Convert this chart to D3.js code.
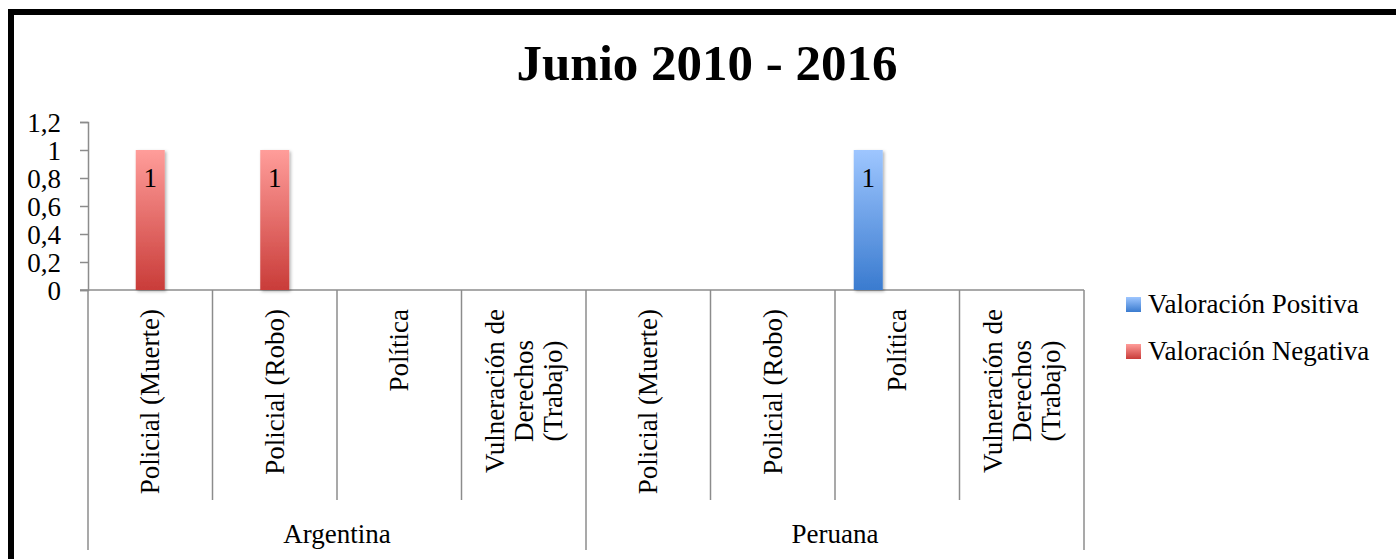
<!DOCTYPE html>
<html>
<head>
<meta charset="utf-8">
<script src="https://cdn.jsdelivr.net/npm/d3@7"></script>
<style>
  html, body { margin: 0; padding: 0; background: #fff; overflow: hidden; }
  svg text { font-family: "Liberation Serif", "Times New Roman", serif; fill: #000; }
</style>
</head>
<body>
<svg id="chart" width="1396" height="559"></svg>
<script>
// Data
var titleText = 'Junio 2010 - 2016';
var groups = ['Argentina', 'Peruana'];
var categories = ['Policial (Muerte)', 'Policial (Robo)', 'Política', 'Vulneración de Derechos (Trabajo)'];
// wrapped tick labels, as drawn
var categoryLines = [
  ['Policial (Muerte)'],
  ['Policial (Robo)'],
  ['Política'],
  ['Vulneración de', 'Derechos', '(Trabajo)']
];
var seriesNames = ['Valoración Positiva', 'Valoración Negativa'];
// one value per group x category, null = blank cell
var positiva = [null, null, null, null,   null, null, 1, null];
var negativa = [1, 1, null, null,         null, null, null, null];
var yTicks = [0, 0.2, 0.4, 0.6, 0.8, 1, 1.2];

var svg = d3.select('#chart');
var axisColor = '#8c8c8c';

// outer frame (cropped on right/bottom)
svg.append('rect')
  .attr('x', 11).attr('y', 12)
  .attr('width', 1500).attr('height', 700)
  .attr('fill', 'none')
  .attr('stroke', '#000')
  .attr('stroke-width', 6);

// gradients
var defs = svg.append('defs');
function grad(id, top, bottom) {
  var g = defs.append('linearGradient').attr('id', id)
    .attr('x1', 0).attr('y1', 0).attr('x2', 0).attr('y2', 1);
  g.append('stop').attr('offset', '0%').attr('stop-color', top);
  g.append('stop').attr('offset', '100%').attr('stop-color', bottom);
}
grad('gPos', '#9ec6ff', '#3a7bcf');
grad('gNeg', '#ff9d9a', '#c93c39');
var fills = ['url(#gPos)', 'url(#gNeg)'];

var shadow = defs.append('filter').attr('id', 'shadow')
  .attr('x', '-30%').attr('y', '-10%').attr('width', '160%').attr('height', '130%');
shadow.append('feDropShadow')
  .attr('dx', 1.5).attr('dy', 1.5).attr('stdDeviation', 1.5)
  .attr('flood-color', '#000').attr('flood-opacity', 0.3);

// title
svg.append('text')
  .attr('x', 707).attr('y', 80)
  .attr('text-anchor', 'middle')
  .style('font-size', '51px')
  .style('font-weight', 'bold')
  .text(titleText);

// scales
var keys = [];
groups.forEach(function (g) {
  categories.forEach(function (c) { keys.push(g + '|' + c); });
});

var x0 = d3.scaleBand().domain(keys).range([88, 1084]).padding(0);
// Excel reserved three series slots per category; only the first two hold data
var x1 = d3.scaleBand().domain([0, 1, 2]).range([0, x0.bandwidth()])
  .paddingInner(0).paddingOuter(0.646);
var y = d3.scaleLinear().domain([0, 1.2]).range([290, 122]);

var xGroup = d3.scaleBand().domain(groups).range([88, 1084]).padding(0);

// y axis
var yAxis = svg.append('g')
  .attr('transform', 'translate(88,0)')
  .call(d3.axisLeft(y).tickValues(yTicks).tickSize(8).tickPadding(19)
    .tickFormat(function (d) { return String(d).replace('.', ','); }));
yAxis.select('.domain').attr('stroke', axisColor).attr('stroke-width', 1.5);
yAxis.selectAll('.tick line').attr('stroke', axisColor).attr('stroke-width', 1.5);
yAxis.selectAll('.tick text')
  .attr('dy', '0.34em')
  .style('font-size', '27px')
  .style('font-family', '"Liberation Serif", serif')
  .attr('fill', '#000');

// x baseline
svg.append('line')
  .attr('x1', 80).attr('x2', x0.range()[1])
  .attr('y1', y(0)).attr('y2', y(0))
  .attr('stroke', axisColor).attr('stroke-width', 1.5);

// category dividers
var catEdges = keys.map(function (k) { return x0(k); }).concat([x0.range()[1]]);
svg.append('g').selectAll('line')
  .data(catEdges)
  .join('line')
  .attr('x1', function (d) { return d; })
  .attr('x2', function (d) { return d; })
  .attr('y1', y(0))
  .attr('y2', function (d, i) { return (i % categories.length === 0) ? 550 : 500; })
  .attr('stroke', axisColor).attr('stroke-width', 1.5);

// rotated category labels
var lineH = 29;
var capHalf = 9;
var labelTop = 309;
keys.forEach(function (k, i) {
  var lines = categoryLines[i % categories.length];
  var cx = x0(k) + x0.bandwidth() / 2;
  var g = svg.append('g');
  var texts = lines.map(function (t, j) {
    var bx = cx + capHalf + (j - (lines.length - 1) / 2) * lineH;
    return g.append('text')
      .attr('transform', 'translate(' + bx + ',0) rotate(-90)')
      .attr('text-anchor', 'middle')
      .style('font-size', '27px')
      .text(t);
  });
  var maxLen = d3.max(texts, function (t) { return t.node().getComputedTextLength(); });
  var midY = labelTop + maxLen / 2;
  texts.forEach(function (t, j) {
    var bx = cx + capHalf + (j - (lines.length - 1) / 2) * lineH;
    t.attr('transform', 'translate(' + bx + ',' + midY + ') rotate(-90)');
  });
});

// group labels
svg.append('g').selectAll('text')
  .data(groups)
  .join('text')
  .attr('x', function (d) { return xGroup(d) + xGroup.bandwidth() / 2; })
  .attr('y', 543)
  .attr('text-anchor', 'middle')
  .style('font-size', '27px')
  .text(function (d) { return d; });

// bars
var series = [positiva, negativa];
var barData = [];
series.forEach(function (vals, s) {
  vals.forEach(function (v, i) {
    if (v !== null) barData.push({ key: keys[i], s: s, v: v });
  });
});

var bars = svg.append('g');
bars.selectAll('rect')
  .data(barData)
  .join('rect')
  .attr('x', function (d) { return x0(d.key) + x1(d.s); })
  .attr('y', function (d) { return y(d.v); })
  .attr('width', x1.bandwidth())
  .attr('height', function (d) { return y(0) - y(d.v); })
  .attr('fill', function (d) { return fills[d.s]; })
  .attr('filter', 'url(#shadow)');

bars.selectAll('text')
  .data(barData)
  .join('text')
  .attr('x', function (d) { return x0(d.key) + x1(d.s) + x1.bandwidth() / 2; })
  .attr('y', function (d) { return y(d.v) + 37; })
  .attr('text-anchor', 'middle')
  .style('font-size', '27px')
  .text(function (d) { return String(d.v).replace('.', ','); });

// legend
var legend = svg.append('g').attr('transform', 'translate(1126,297)');
var item = legend.selectAll('g')
  .data(seriesNames)
  .join('g')
  .attr('transform', function (d, i) { return 'translate(0,' + (i * 47) + ')'; });
item.append('rect')
  .attr('width', 15).attr('height', 15)
  .attr('fill', function (d, i) { return fills[i]; });
item.append('text')
  .attr('x', 22).attr('y', 16)
  .style('font-size', '27px')
  .text(function (d) { return d; });
</script>
</body>
</html>
